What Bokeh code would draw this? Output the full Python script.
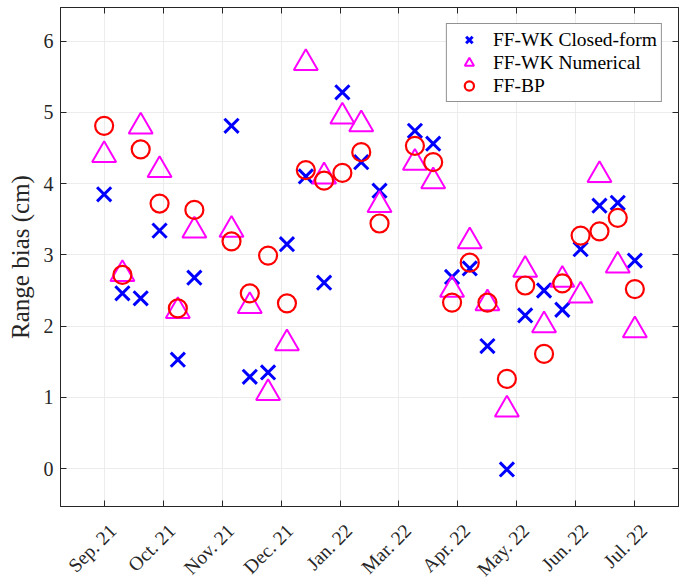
from math import pi
from bokeh.plotting import figure
from bokeh.models import FixedTicker, LinearAxis, Range1d, Legend, LegendItem
from bokeh.embed import file_html
from bokeh.resources import INLINE

# ---- data ----
month_labels = ["Sep. 21", "Oct. 21", "Nov. 21", "Dec. 21", "Jan. 22",
                "Mar. 22", "Apr. 22", "May. 22", "Jun. 22", "Jul. 22"]
month_ticks = [0, 1, 2, 3, 4, 5, 6, 7, 8, 9]

# measurement positions along the month axis
x = [0.0, 0.31, 0.62, 0.94, 1.25, 1.53, 2.16, 2.47, 2.78, 3.10,
     3.42, 3.73, 4.04, 4.36, 4.67, 5.27, 5.58, 5.90, 6.20, 6.50,
     6.83, 7.14, 7.46, 7.77, 8.08, 8.40, 8.71, 9.00]

closed_form = [3.85, 2.46, 2.39, 3.34, 1.53, 2.68, 4.81, 1.29, 1.35, 3.15,
               4.10, 2.61, 5.28, 4.30, 3.90, 4.74, 4.56, 2.69, 2.81, 1.72,
               -0.01, 2.15, 2.50, 2.23, 3.08, 3.69, 3.73, 2.92]

numerical = [4.40, 2.73, 4.80, 4.19, 2.21, 3.34, 3.35, 2.28, 1.06, 1.76,
             5.69, 4.10, 4.94, 4.83, 3.70, 4.29, 4.03, 2.51, 3.19, 2.32,
             0.83, 2.79, 2.01, 2.65, 2.43, 4.12, 2.85, 1.94]

ff_bp = [4.81, 2.72, 4.48, 3.72, 2.25, 3.63, 3.19, 2.46, 2.99, 2.32,
         4.19, 4.04, 4.15, 4.44, 3.44, 4.53, 4.30, 2.33, 2.89, 2.33,
         1.26, 2.57, 1.61, 2.60, 3.27, 3.33, 3.52, 2.52]

y_ticks = [0, 1, 2, 3, 4, 5, 6]

FONT = "Liberation Serif"
AX = "#262626"
X0, X1 = -0.74, 9.74
LABEL_SHIFT = 0.15   # rotated labels sit slightly right of their tick (as in the reference)

p = figure(frame_width=618, frame_height=499,
           x_range=Range1d(X0, X1), y_range=Range1d(-0.53, 6.47),
           output_backend="svg", toolbar_location=None,
           min_border_left=60, min_border_right=4, min_border_top=7, min_border_bottom=74)
p.extra_x_ranges = {"labels": Range1d(X0 - LABEL_SHIFT, X1 - LABEL_SHIFT)}
p.background_fill_color = "white"
p.outline_line_color = AX
p.outline_line_width = 1

# bottom axis: line and inward ticks only
xa = p.xaxis[0]
xa.ticker = FixedTicker(ticks=month_ticks)
xa.major_label_overrides = {t: "" for t in month_ticks}
xa.major_label_standoff = 0
xa.major_label_text_font_size = "1px"

# second bottom axis carrying the rotated month labels
xl = LinearAxis(x_range_name="labels", ticker=FixedTicker(ticks=month_ticks))
xl.major_label_overrides = {t: l for t, l in zip(month_ticks, month_labels)}
xl.major_label_orientation = pi / 4
xl.axis_line_color = None
xl.major_tick_line_color = None
xl.major_tick_in = 0
xl.major_tick_out = 0
xl.major_label_standoff = 21
p.add_layout(xl, "below")

ya = p.yaxis[0]
ya.ticker = FixedTicker(ticks=y_ticks)
ya.axis_label = "Range bias (cm)"
ya.axis_label_text_font = FONT
ya.axis_label_text_font_size = "25px"
ya.axis_label_text_font_style = "normal"
ya.axis_label_text_color = AX
ya.axis_label_standoff = 7
ya.major_label_standoff = 7
ya.major_label_text_font_size = "20px"
xl.major_label_text_font_size = "19.5px"
for ax in (xa, ya, xl):
    ax.major_label_text_font = FONT
    ax.major_label_text_color = AX
    ax.minor_tick_line_color = None
for ax in (xa, ya):
    ax.axis_line_color = AX
    ax.major_tick_line_color = AX
    ax.major_tick_in = 6
    ax.major_tick_out = 0

top = LinearAxis(ticker=FixedTicker(ticks=month_ticks))
right = LinearAxis(ticker=FixedTicker(ticks=y_ticks))
top.major_label_overrides = {t: "" for t in month_ticks}
right.major_label_overrides = {t: "" for t in y_ticks}
for ax in (top, right):
    ax.major_label_standoff = 0
    ax.axis_line_color = AX
    ax.major_tick_line_color = AX
    ax.major_tick_in = 6
    ax.major_tick_out = 0
    ax.minor_tick_line_color = None
p.add_layout(top, "above")
p.add_layout(right, "right")

p.xgrid.ticker = FixedTicker(ticks=month_ticks)
p.ygrid.ticker = FixedTicker(ticks=y_ticks)
for g in (p.xgrid[0], p.ygrid[0]):
    g.grid_line_color = "#ececec"
    g.grid_line_width = 1

r1 = p.scatter(x, closed_form, marker="x", size=20, line_color="#0000ff",
               line_width=3)
r2 = p.scatter(x, numerical, marker="triangle", size=24, line_color="#ff00ff",
               fill_color=None, line_width=2)
r3 = p.scatter(x, ff_bp, marker="circle", size=18, line_color="#ff0000",
               fill_color=None, line_width=2.2)

legend = Legend(items=[LegendItem(label="FF-WK Closed-form", renderers=[r1]),
                       LegendItem(label="FF-WK Numerical", renderers=[r2]),
                       LegendItem(label="FF-BP", renderers=[r3])],
                location="top_right")
legend.label_text_font = FONT
legend.label_text_font_size = "19.5px"
legend.label_text_color = "black"
legend.border_line_color = AX
legend.border_line_width = 1.2
legend.background_fill_color = "white"
legend.background_fill_alpha = 1
legend.margin = 16
legend.padding = 4
legend.spacing = 0
legend.glyph_width = 36
legend.glyph_height = 23
legend.label_standoff = 6
legend.label_height = 23
p.add_layout(legend)

open("out.html", "w").write(file_html(p, INLINE))
